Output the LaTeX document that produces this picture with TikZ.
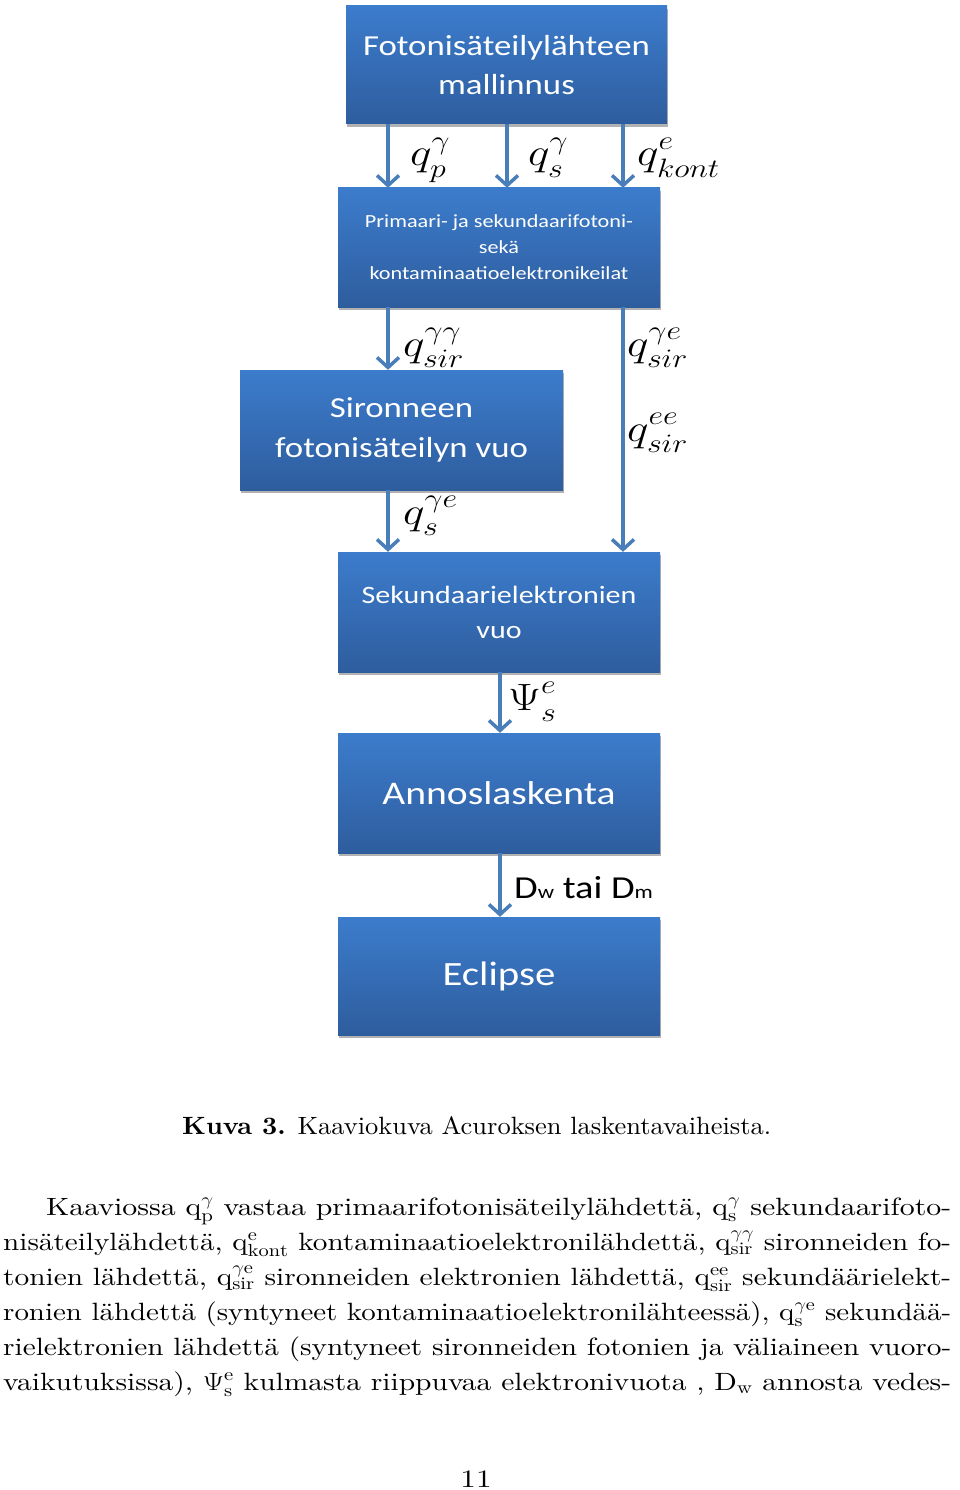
\RequirePackage{fix-cm}
\documentclass[tikz,border=0pt]{standalone}
\usepackage{fontspec}
\usepackage{graphicx}
\setmainfont{lmroman10}[Extension=.otf, UprightFont=*-regular, BoldFont=*-bold, ItalicFont=*-italic, BoldItalicFont=*-bolditalic]
\newfontfamily\carl{Carlito}[FakeStretch=1.2]
\usetikzlibrary{arrows.meta,shadows}
\definecolor{boxtop}{RGB}{60,124,204}
\definecolor{boxbot}{RGB}{46,93,158}
\definecolor{arrowc}{RGB}{74,126,187}
\newcommand\jline[2]{\resizebox{#1}{\height}{#2}}
% label: base, subscript, superscript, with sub and sup kept apart
\newcommand\lab[3]{\scalebox{1.2}[1]{$#1^{\raisebox{3pt}{$\scriptstyle #3$}}_{\raisebox{-2pt}{$\scriptstyle #2$}}$}}
\begin{document}
\begin{tikzpicture}[x=1pt,y=-1pt,
  box/.style={draw=none, top color=boxtop, bottom color=boxbot, inner sep=0pt,
    text=white, align=center,
    drop shadow={shadow xshift=1pt, shadow yshift=-3pt, opacity=0.3, fill=black}},
  arr/.style={draw=arrowc, line width=3.5pt,
    -{Straight Barb[length=10pt,width=22pt,line width=3.5pt]}},
  lbl/.style={anchor=base west, inner sep=0pt, font=\fontsize{38}{38}\selectfont},
  body/.style={anchor=base west, inner sep=0pt, font=\fontsize{25}{35}\selectfont}]
\fill[white] (0,0) rectangle (960,1490);
\useasboundingbox (0,0) rectangle (960,1490);

% boxes
\node[box, minimum width=321pt, minimum height=118pt, font=\carl\fontsize{29}{39}\selectfont]
  (b1) at (506.5,65) {Fotonisäteilylähteen\\mallinnus};
\node[box, minimum width=322pt, minimum height=119pt, font=\carl\fontsize{18.5}{26}\selectfont]
  (b2) at (499,247.5) {Primaari- ja sekundaarifotoni-\\sekä\\kontaminaatioelektronikeilat};
\node[box, minimum width=323pt, minimum height=120pt, font=\carl\fontsize{29}{40}\selectfont]
  (b3) at (401.5,430) {Sironneen\\fotonisäteilyn vuo};
\node[box, minimum width=322pt, minimum height=120pt, font=\carl\fontsize{25}{35}\selectfont]
  (b4) at (499,612) {Sekundaarielektronien\\vuo};
\node[box, minimum width=322pt, minimum height=120pt, font=\carl\fontsize{33}{40}\selectfont]
  (b5) at (499,793) {Annoslaskenta};
\node[box, minimum width=322pt, minimum height=118pt, font=\carl\fontsize{34}{40}\selectfont]
  (b6) at (499,976) {Eclipse};

% arrow columns
\coordinate (xA) at (388,0);
\coordinate (xB) at (507,0);
\coordinate (xC) at (623,0);
\coordinate (xD) at (500,0);

\draw[arr] (b1.south -| xA) -- (b2.north -| xA);
\draw[arr] (b1.south -| xB) -- (b2.north -| xB);
\draw[arr] (b1.south -| xC) -- (b2.north -| xC);
\draw[arr] (b2.south -| xA) -- (b3.north -| xA);
\draw[arr] (b2.south -| xC) -- (b4.north -| xC);
\draw[arr] (b3.south -| xA) -- (b4.north -| xA);
\draw[arr] (b4.south -| xD) -- (b5.north -| xD);
\draw[arr] (b5.south -| xD) -- (b6.north -| xD);

% labels
\node[lbl] (lqp) at (410,166) {\lab{q}{p}{\gamma}};
\node[lbl] (lqs) at (528,166) {\lab{q}{s}{\gamma}};
\node[lbl] (lqk) at (637,166) {\lab{q}{kont}{e}};
\node[lbl] (lgg) at (403,356) {\lab{q}{sir}{\gamma\gamma}};
\node[lbl] (lge) at (627,356) {\lab{q}{sir}{\gamma e}};
\node[lbl] (lee) at (627,441) {\lab{q}{sir}{ee}};
\node[lbl] (lse) at (403,524) {\lab{q}{s}{\gamma e}};
\node[lbl] (lpsi) at (508,710) {\lab{\Psi}{s}{e}};
\node[lbl, font=\carl\fontsize{32}{32}\selectfont] (ld) at (514,898)
  {D{\fontsize{19}{19}\selectfont w} tai D{\fontsize{19}{19}\selectfont m}};

% caption
\node[anchor=base west, inner sep=0pt, font=\fontsize{25}{28}\selectfont] (cap) at (182,1134)
  {\jline{589pt}{\textbf{Kuva 3.} Kaaviokuva Acuroksen laskentavaiheista.}};

% body text
\node[body] (t1) at (46,1215) {\jline{905pt}{Kaaviossa $\mathrm{q}^{\gamma}_{\mathrm{p}}$ vastaa primaarifotonisäteilylähdettä, $\mathrm{q}^{\gamma}_{\mathrm{s}}$ sekundaarifoto-}};
\node[body] (t2) at (3,1250) {\jline{948pt}{nisäteilylähdettä, $\mathrm{q}^{\mathrm{e}}_{\mathrm{kont}}$ kontaminaatioelektronilähdettä, $\mathrm{q}^{\gamma\gamma}_{\mathrm{sir}}$ sironneiden fo-}};
\node[body] (t3) at (3,1285) {\jline{948pt}{tonien lähdettä, $\mathrm{q}^{\gamma\mathrm{e}}_{\mathrm{sir}}$ sironneiden elektronien lähdettä, $\mathrm{q}^{\mathrm{ee}}_{\mathrm{sir}}$ sekundäärielekt-}};
\node[body] (t4) at (3,1320) {\jline{948pt}{ronien lähdettä (syntyneet kontaminaatioelektronilähteessä), $\mathrm{q}^{\gamma\mathrm{e}}_{\mathrm{s}}$ sekundää-}};
\node[body] (t5) at (3,1355) {\jline{948pt}{rielektronien lähdettä (syntyneet sironneiden fotonien ja väliaineen vuoro-}};
\node[body] (t6) at (3,1390) {\jline{948pt}{vaikutuksissa), $\Psi^{\mathrm{e}}_{\mathrm{s}}$ kulmasta riippuvaa elektronivuota , $\mathrm{D}_{\mathrm{w}}$ annosta vedes-}};

% page number
\node[anchor=base, inner sep=0pt, font=\fontsize{25}{28}\selectfont] (pg) at (476,1487) {\scalebox{1.25}[1]{11}};
\end{tikzpicture}
\end{document}
